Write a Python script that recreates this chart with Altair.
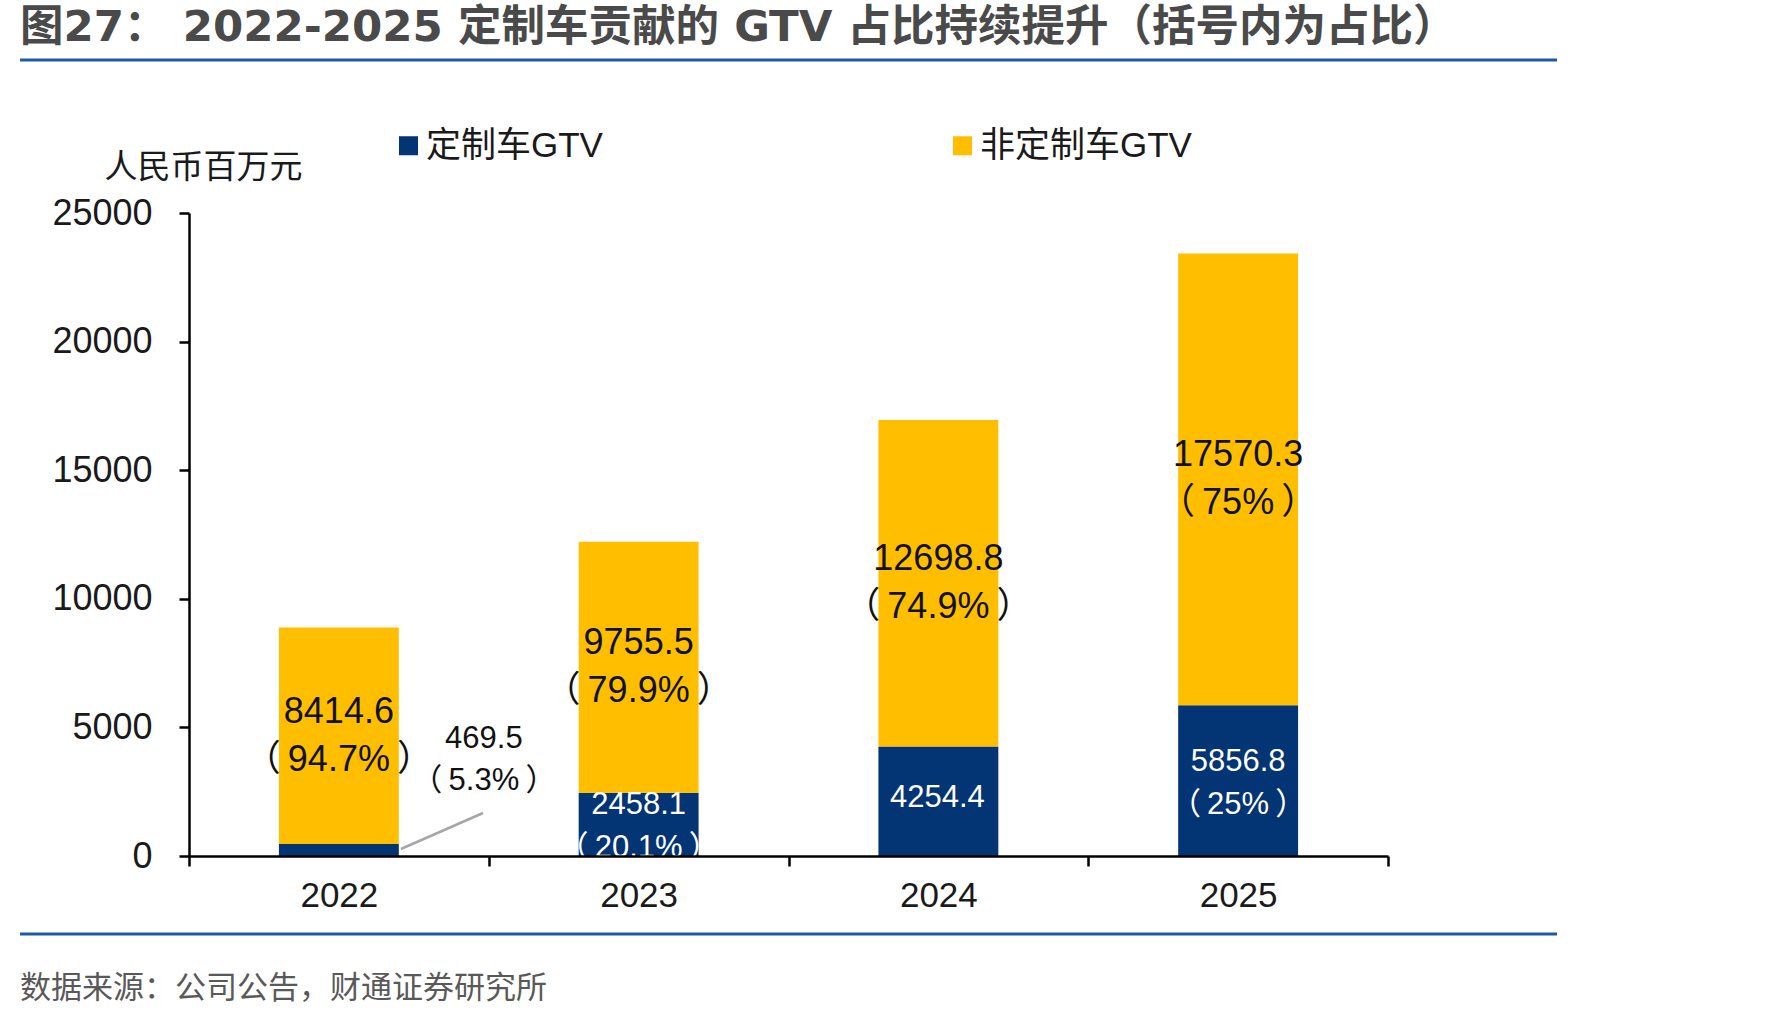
import altair as alt
import pandas as pd

# ---- data ----
years = ["2022", "2023", "2024", "2025"]
custom_gtv = [469.5, 2458.1, 4254.4, 5856.8]          # 定制车GTV, 人民币百万元
other_gtv = [8414.6, 9755.5, 12698.8, 17570.3]        # 非定制车GTV
custom_share = ["5.3%", "20.1%", "", "25%"]
other_share = ["94.7%", "79.9%", "74.9%", "75%"]

series = ["定制车GTV", "非定制车GTV"]
colors = ["#033473", "#FFBF00"]

title_text = "图27：     2022-2025 定制车贡献的 GTV 占比持续提升（括号内为占比）"
source_text = "数据来源：公司公告，财通证券研究所"
y_title = "人民币百万元"

FONT = "Liberation Sans, Noto Sans CJK SC"
TITLE_FONT = "DejaVu Sans, Noto Sans CJK SC"
THIN = "\u2009"

# ---- tables built from the arrays ----
rows = []
for i, yr in enumerate(years):
    c, o = custom_gtv[i], other_gtv[i]
    rows.append(dict(year=yr, series=series[0], base=0.0, top=c,
                     mid=c / 2, label=f"{c:.1f}",
                     share=f"（{THIN}{custom_share[i]}{THIN}）" if custom_share[i] else ""))
    rows.append(dict(year=yr, series=series[1], base=c, top=c + o,
                     mid=c + o / 2, label=f"{o:.1f}",
                     share=f"（{THIN}{other_share[i]}{THIN}）"))
df = pd.DataFrame(rows)

df_other = df[df.series == series[1]]
df_custom = df[df.series == series[0]]
df_custom_inside = df_custom[df_custom.year.isin(["2023", "2025"])]
df_custom_single = df_custom[df_custom.year == "2024"]
df_custom_callout = df_custom[df_custom.year == "2022"]

W, H = 1199, 643
LEFT, TOP = 189, 213

x_enc = alt.X(
    "year:N",
    sort=years,
    scale=alt.Scale(paddingInner=0, paddingOuter=0),
    axis=alt.Axis(
        title=None, labelAngle=0, labelFont=FONT, labelFontSize=35,
        labelColor="#1a1a1a", labelPadding=12, tickBand="extent",
        tickSize=10, tickWidth=2.5, tickColor="black",
        domainColor="black", domainWidth=2.5, zindex=1,
    ),
)
y_scale = alt.Scale(domain=[0, 25000], nice=False)

bars = alt.Chart(df).mark_bar(width=alt.RelativeBandSize(0.4)).encode(
    x=x_enc,
    y=alt.Y(
        "base:Q",
        scale=y_scale,
        axis=alt.Axis(
            title=y_title, titleAngle=0, titleX=14, titleY=-46,
            titleAlign="center", titleBaseline="middle", titleFont=FONT,
            titleFontSize=33, titleFontWeight="normal", titleColor="#1a1a1a",
            values=[0, 5000, 10000, 15000, 20000, 25000], format="d",
            labelFont=FONT, labelFontSize=36, labelColor="#1a1a1a",
            labelPadding=27, tickSize=10, tickWidth=2.5, tickColor="black",
            domainColor="black", domainWidth=2.5, grid=False, zindex=1,
        ),
    ),
    y2="top:Q",
    color=alt.Color(
        "series:N",
        scale=alt.Scale(domain=series, range=colors),
        legend=alt.Legend(
            orient="none", legendX=202, legendY=-85, direction="horizontal",
            title=None, symbolType="square", symbolSize=361,
            symbolStrokeWidth=0, labelFont=FONT, labelFontSize=35,
            labelColor="#1a1a1a", labelOffset=0, columnPadding=342,
            labelLimit=400,
        ),
    ),
)

x_plain = alt.X("year:N", sort=years)
y_plain = alt.Y("mid:Q", scale=y_scale)

# labels inside the yellow segments: value over share
other_val = alt.Chart(df_other).mark_text(
    font=FONT, fontSize=36, color="#111111", dy=-24
).encode(x=x_plain, y=y_plain, text="label:N")
other_pct = alt.Chart(df_other).mark_text(
    font=FONT, fontSize=36, color="#111111", dy=24
).encode(x=x_plain, y=y_plain, text="share:N")

# labels inside the navy segments
cust_val = alt.Chart(df_custom_inside).mark_text(
    font=FONT, fontSize=31, color="white", dy=-19
).encode(x=x_plain, y=y_plain, text="label:N")
cust_pct = alt.Chart(df_custom_inside).mark_text(
    font=FONT, fontSize=31, color="white", dy=24
).encode(x=x_plain, y=y_plain, text="share:N")
cust_single = alt.Chart(df_custom_single).mark_text(
    font=FONT, fontSize=31, color="white", dx=-1, dy=-3
).encode(x=x_plain, y=y_plain, text="label:N")

# callout for the thin 2022 navy segment
call_val = alt.Chart(df_custom_callout).mark_text(
    font=FONT, fontSize=31, color="#111111", dx=145, dy=-111
).encode(x=x_plain, y=y_plain, text="label:N")
call_pct = alt.Chart(df_custom_callout).mark_text(
    font=FONT, fontSize=31, color="#111111", dx=145, dy=-69
).encode(x=x_plain, y=y_plain, text="share:N")

main = alt.layer(bars, other_val, other_pct, cust_val, cust_pct, cust_single,
                 call_val, call_pct)

# leader line, in category-index units on a helper linear x scale
leader_df = pd.DataFrame({"cx": [0.207], "cx2": [0.481], "vy": [272], "vy2": [1672]})
leader = alt.Chart(leader_df).mark_rule(color="#A6A6A6", strokeWidth=2.5).encode(
    x=alt.X("cx:Q", scale=alt.Scale(domain=[-0.5, 3.5], nice=False, zero=False), axis=None),
    x2="cx2:Q",
    y=alt.Y("vy:Q", scale=y_scale),
    y2="vy2:Q",
)

# page furniture: heading, rules, source note
heading = alt.Chart(pd.DataFrame({"t": [title_text]})).mark_text(
    font=TITLE_FONT, fontSize=43.5, fontWeight="bold", color="#4a4a4a",
    align="left", baseline="middle",
).encode(text="t:N", x=alt.value(20 - LEFT), y=alt.value(28 - TOP))

src = alt.Chart(pd.DataFrame({"t": [source_text]})).mark_text(
    font="Noto Sans CJK SC", fontSize=31, color="#595959",
    align="left", baseline="middle",
).encode(text="t:N", x=alt.value(20 - LEFT), y=alt.value(989 - TOP))

rule_df = pd.DataFrame({"k": [0]})
top_rule = alt.Chart(rule_df).mark_rule(color="#1F5AA6", strokeWidth=3).encode(
    x=alt.value(20 - LEFT), x2=alt.value(1557 - LEFT), y=alt.value(60 - TOP)
)
bottom_rule = alt.Chart(rule_df).mark_rule(color="#1F5AA6", strokeWidth=3).encode(
    x=alt.value(20 - LEFT), x2=alt.value(1557 - LEFT), y=alt.value(934 - TOP)
)

chart = alt.layer(
    main, leader, heading, src, top_rule, bottom_rule,
).resolve_scale(x="independent").properties(
    width=W, height=H,
    background="white",
    autosize=alt.AutoSizeParams(type="none"),
    padding={"left": LEFT, "top": TOP, "right": 1771 - LEFT - W, "bottom": 1020 - TOP - H},
).configure_view(stroke=None)

chart.save("out.html", embed_options={"renderer": "svg", "actions": False})
